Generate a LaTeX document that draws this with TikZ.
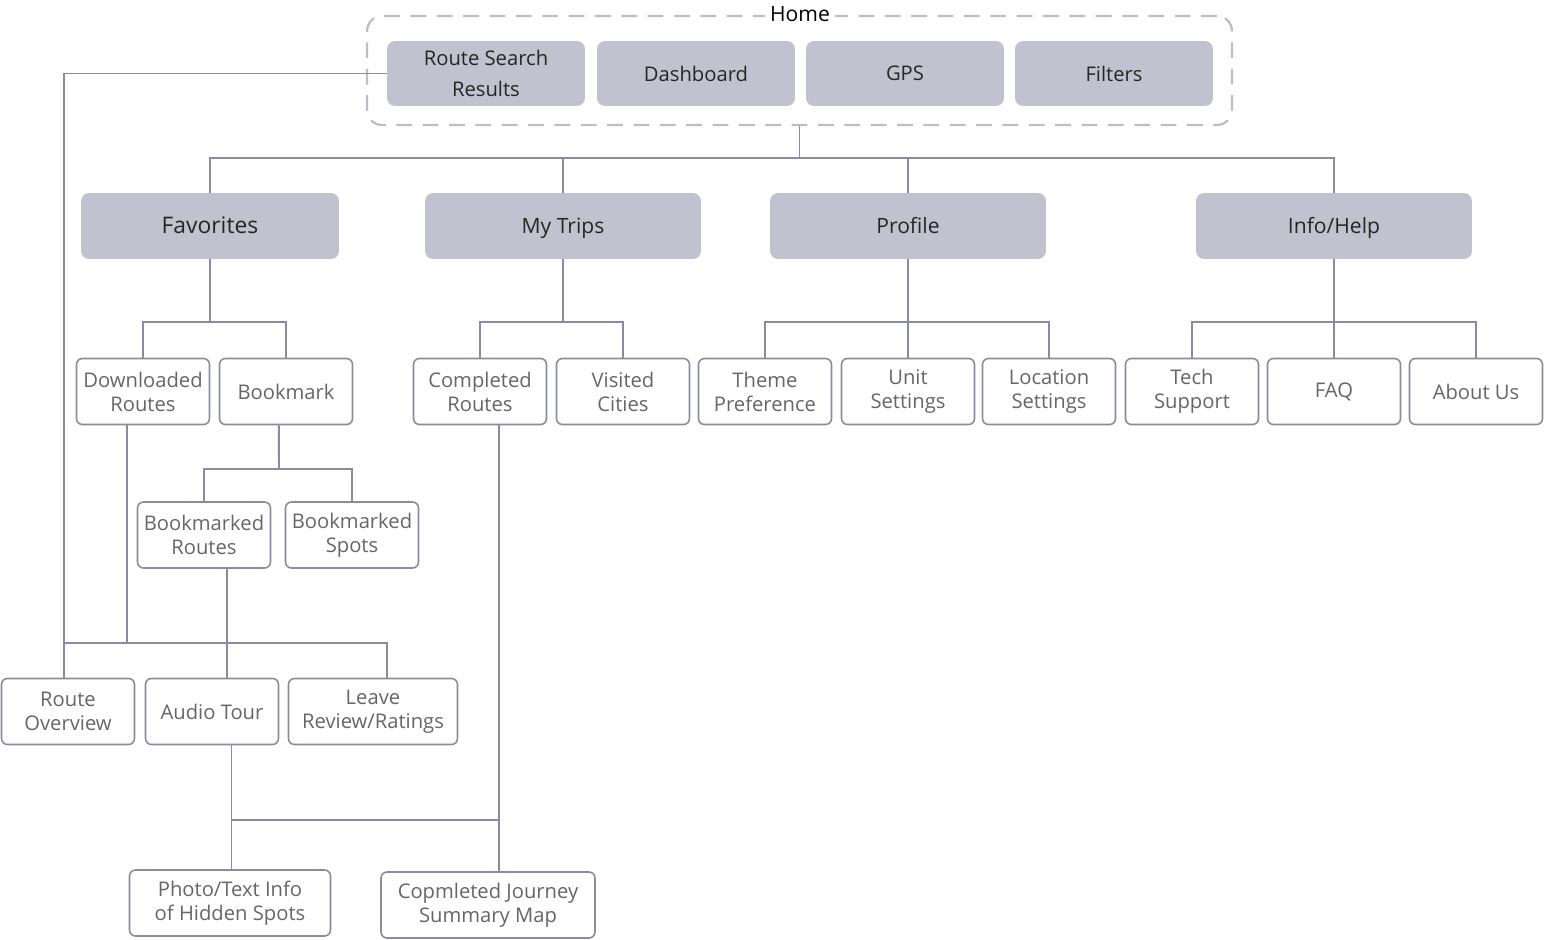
\documentclass[tikz,border=0pt]{standalone}
\usepackage{fontspec}
\setmainfont{Open Sans}
\usepackage{xcolor}
\definecolor{boxfill}{HTML}{C1C1CF}
\definecolor{linecol}{HTML}{8A8AA4}
\definecolor{dashcol}{HTML}{BDBDC8}
\definecolor{leaftext}{HTML}{666666}
\tikzset{homebox/.style = {shape=rectangle, draw=dashcol, dashed, dash pattern=on 9pt off 6pt,
line width=1.3pt, rounded corners=0.3cm, minimum width=17.3cm, minimum height=2.18cm},
topbtn/.style = {shape=rectangle, fill=boxfill, rounded corners=0.16cm,
minimum width=3.96cm, minimum height=1.3cm, align=center, text=black!85,
font=\fontsize{11.5}{18}\selectfont},
section/.style = {shape=rectangle, fill=boxfill, rounded corners=0.16cm,
minimum width=5.52cm, minimum height=1.32cm, align=center, text=black!85,
text height=2ex, text depth=0.3ex, font=\fontsize{12}{14}\selectfont},
leaf/.style = {shape=rectangle, draw=linecol, line width=0.9pt, fill=white,
rounded corners=0.12cm, minimum width=2.66cm, minimum height=1.32cm,
align=center, text=leaftext, inner sep=1pt, font=\fontsize{11.5}{13.6}\selectfont},
link/.style = {draw=linecol, line width=1.1pt}}

\begin{document}
\begin{tikzpicture}[x=0.02cm, y=-0.02cm]
                \useasboundingbox (0,0) rectangle (1546,940);

                % home screen
                \node[homebox] (home) at (799.5,70.5) {};
                \node[fill=white, inner sep=3pt, font=\fontsize{12}{14}\selectfont] (homelbl) at (800,14) {Home};
                \node[topbtn] (rsr) at (486,73.5) {Route Search\\Results};
                \node[topbtn] (dash) at (696,73.5) {Dashboard};
                \node[topbtn] (gps) at (905,73.5) {GPS};
                \node[topbtn] (filt) at (1114,73.5) {Filters};

                \node[section, minimum width=5.16cm, font=\fontsize{13}{15}\selectfont] (fav) at (210,226) {Favorites};
                \node[section] (trips) at (563,226) {My Trips};
                \node[section] (prof) at (908,226) {Profile};
                \node[section] (info) at (1334,226) {Info/Help};

                \node[leaf] (dl) at (143,391.5) {Downloaded\\Routes};
                \node[leaf] (bm) at (286,391.5) {Bookmark};
                \node[leaf] (cr) at (480,391.5) {Completed\\Routes};
                \node[leaf] (vc) at (623,391.5) {Visited\\Cities};
                \node[leaf] (tp) at (765,391.5) {Theme\\Preference};
                \node[leaf] (us) at (908,391.5) {Unit\\Settings};
                \node[leaf] (ls) at (1049,391.5) {Location\\Settings};
                \node[leaf] (ts) at (1192,391.5) {Tech\\Support};
                \node[leaf] (faq) at (1334,391.5) {FAQ};
                \node[leaf] (au) at (1476,391.5) {About Us};

                \node[leaf] (bmr) at (204,535) {Bookmarked\\Routes};
                \node[leaf] (bms) at (352,535) {Bookmarked\\Spots};

                \node[leaf] (ov) at (68,711.5) {Route\\Overview};
                \node[leaf] (at) at (212,711.5) {Audio Tour};
                \node[leaf, minimum width=3.38cm] (lr) at (373,711.5) {Leave\\Review/Ratings};

                \node[leaf, minimum width=4.02cm] (ph) at (230,903) {Photo/Text Info\\of Hidden Spots};
                \node[leaf, minimum width=4.28cm] (cj) at (488,905) {Copmleted Journey\\Summary Map};

                % junctions
                \coordinate (hub) at (799.5,158);
                \coordinate (jfav) at (210,322);
                \coordinate (jtrips) at (563,322);
                \coordinate (jprof) at (908,322);
                \coordinate (jinfo) at (1334,322);
                \coordinate (jbm) at (279,469);
                \coordinate (jov) at (64,643);
                \coordinate (jmap) at (498,820);

                \draw[link] (home.south) to (hub);
                \draw[link] (fav.north) |- (hub) -| (info.north);
                \draw[link] (trips.north) to (trips.north |- hub);
                \draw[link] (prof.north) to (prof.north |- hub);

                \draw[link] (fav.south) to (jfav);
                \draw[link] (dl.north) |- (jfav) -| (bm.north);
                \draw[link] (trips.south) to (jtrips);
                \draw[link] (cr.north) |- (jtrips) -| (vc.north);
                \draw[link] (prof.south) to (us.north);
                \draw[link] (tp.north) |- (jprof) -| (ls.north);
                \draw[link] (info.south) to (faq.north);
                \draw[link] (ts.north) |- (jinfo) -| (au.north);

                \draw[link] (bm.-102) to (jbm);
                \draw[link] (bmr.north) |- (jbm) -| (bms.north);

                \draw[link] (rsr.west) -| (ov.97);
                \draw[link] (dl.-115) |- (jov);
                \draw[link] (jov) -| (lr.67);
                \draw[link] (bmr.-56) to (bmr.-56 |- at.north);

                \draw[link] (at.-60) to (at.-60 |- ph.north);
                \draw[link] (cr.-61) to (cr.-61 |- cj.north);
                \draw[link] (at.-60 |- jmap) to (jmap);
            \end{tikzpicture}
\end{document}
